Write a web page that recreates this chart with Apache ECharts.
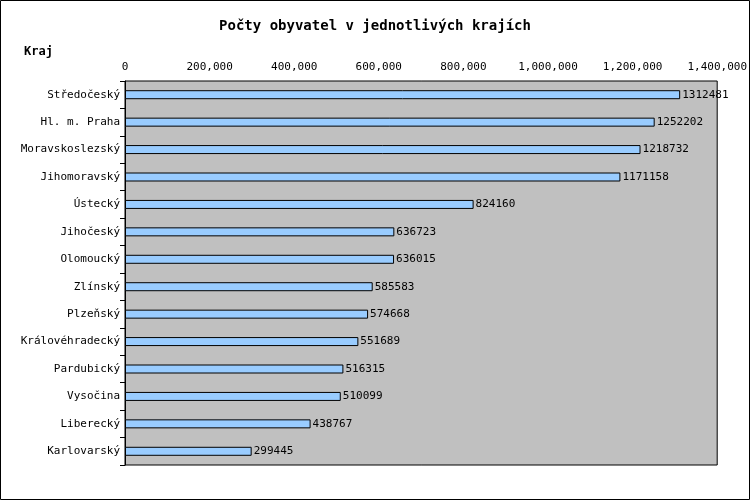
<!DOCTYPE html>
<html><head><meta charset="utf-8">
<script src="https://cdn.jsdelivr.net/npm/echarts@6/dist/echarts.min.js"></script>
<style>body{margin:0}#chart{width:750px;height:500px}</style>
</head><body><div id="chart"></div>
<script>
// kraje a počty obyvatel
var kraje = ['Středočeský','Hl. m. Praha','Moravskoslezský','Jihomoravský','Ústecký','Jihočeský','Olomoucký','Zlínský','Plzeňský','Královéhradecký','Pardubický','Vysočina','Liberecký','Karlovarský'];
var obyvatel = [1312481,1252202,1218732,1171158,824160,636723,636015,585583,574668,551689,516315,510099,438767,299445];

var font = 'DejaVu Sans Mono';
var myChart = echarts.init(document.getElementById('chart'));
var option = {
    animation: false,
    backgroundColor: '#fff',
    title: {
        text: 'Počty obyvatel v jednotlivých krajích',
        left: 'center', top: 14,
        textStyle: {fontFamily: font, fontSize: 14, fontWeight: 'bold', color: '#000'}
    },
    graphic: [
        {type: 'rect', shape: {x: 0.5, y: 0.5, width: 749, height: 499}, style: {fill: null, stroke: '#000', lineWidth: 1}},
        {type: 'text', left: 24, top: 46, style: {text: 'Kraj', fontFamily: font, fontSize: 12, fontWeight: 'bold', fill: '#000'}}
    ],
    grid: {left: 125, right: 30, top: 81, bottom: 35, show: true, backgroundColor: '#c0c0c0', borderColor: '#000', borderWidth: 1},
    xAxis: {
        type: 'value', position: 'top', min: 0, max: 1400000, interval: 200000,
        axisLine: {show: false}, axisTick: {show: false}, splitLine: {show: false},
        axisLabel: {fontFamily: font, fontSize: 11, color: '#000', margin: 8}
    },
    yAxis: {
        type: 'category', data: kraje, inverse: true,
        axisLine: {show: true, lineStyle: {color: '#000'}},
        axisTick: {show: true, inside: false, length: 5, lineStyle: {color: '#000'}},
        axisLabel: {fontFamily: font, fontSize: 11, color: '#000', margin: 5}
    },
    series: [{
        type: 'bar', data: obyvatel, barWidth: 9,
        itemStyle: {color: '#99ccff', borderColor: '#000', borderWidth: 1},
        label: {show: true, position: 'right', distance: 2, fontFamily: font, fontSize: 11, color: '#000'}
    }]
};
myChart.setOption(option);
</script></body></html>
